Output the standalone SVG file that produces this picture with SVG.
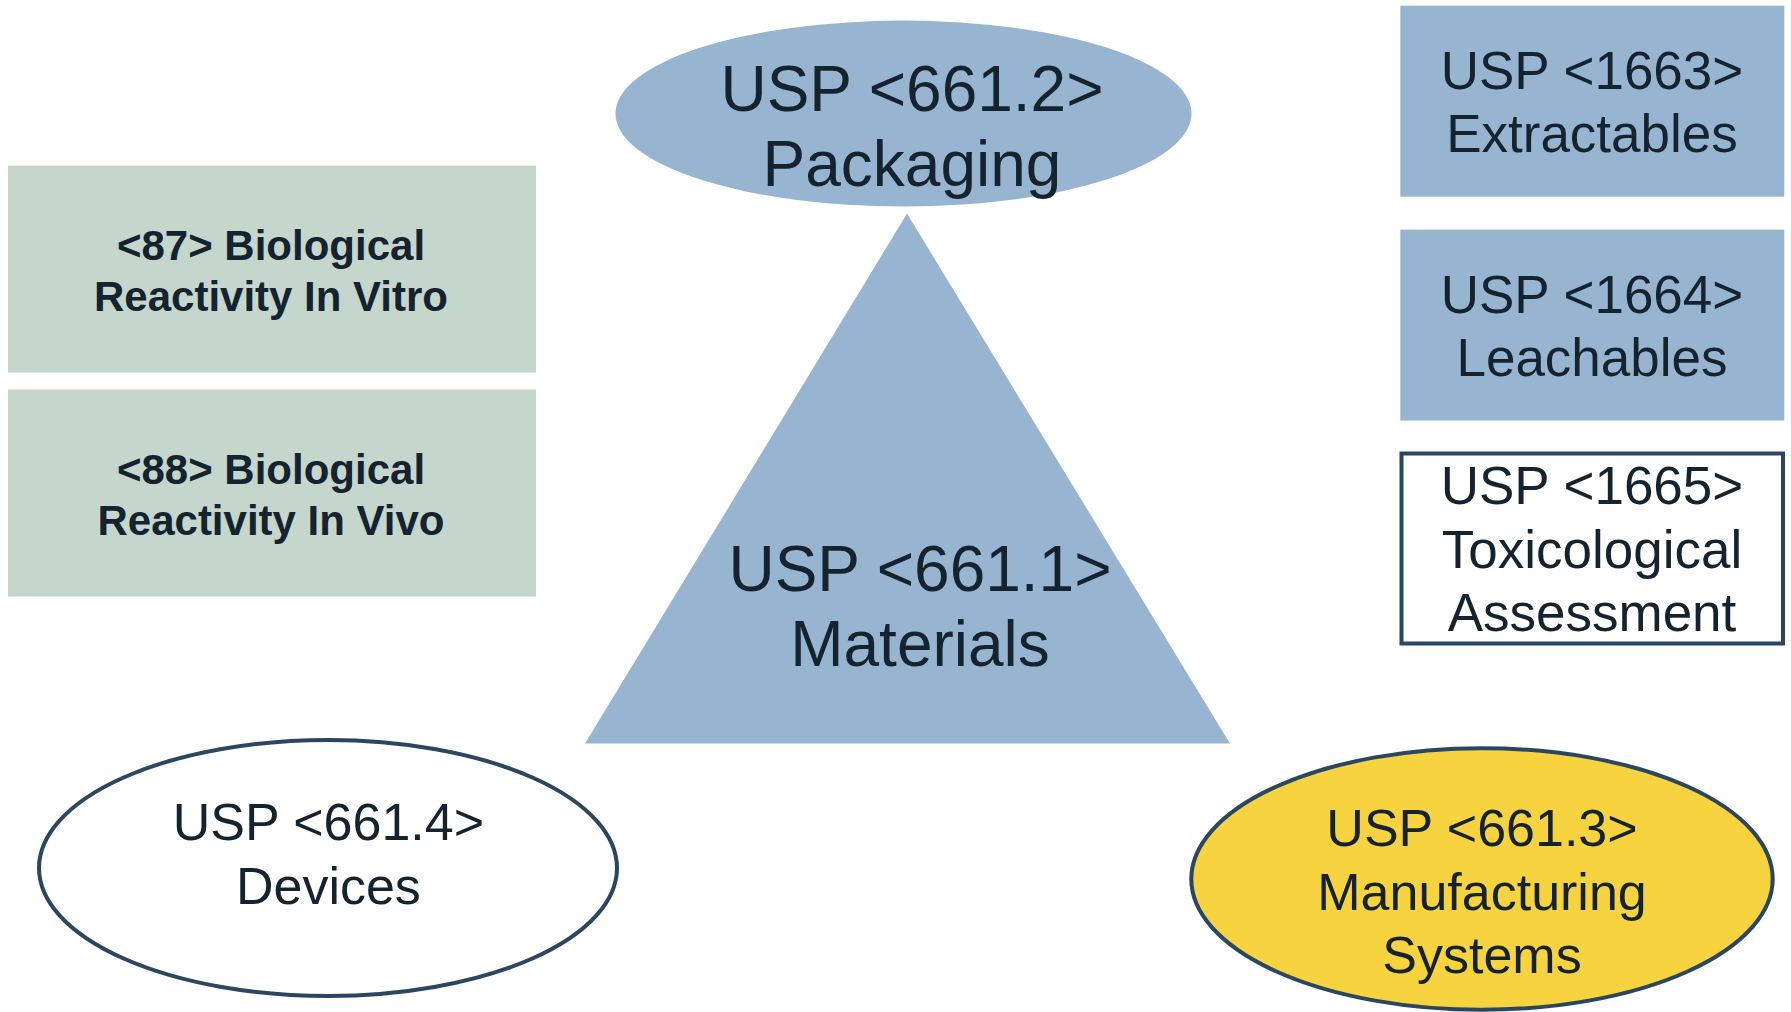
<svg xmlns="http://www.w3.org/2000/svg" width="1791" height="1012" viewBox="0 0 1791 1012">
<style>
.t{font-family:"Liberation Sans",Arial,sans-serif;fill:#15232F;text-anchor:middle}
.b{font-weight:bold}
.blue{fill:#97B5D1}
.green{fill:#C5D7CC}
.out{stroke:#2B4661;stroke-width:4}
</style>
<rect width="1791" height="1012" fill="#FFFFFF"/>
<g id="connectors"></g>
<g id="packaging">
<ellipse class="blue" cx="903.5" cy="113.6" rx="288" ry="93"/>
<text class="t" x="912" y="110.8" font-size="64">USP &lt;661.2&gt;</text>
<text class="t" x="912" y="186.2" font-size="64">Packaging</text>
</g>
<g id="materials">
<polygon class="blue" points="907,213.6 1230,743.6 585,743.6"/>
<text class="t" x="920" y="590.5" font-size="64">USP &lt;661.1&gt;</text>
<text class="t" x="920" y="666" font-size="64">Materials</text>
</g>
<g id="bio87">
<rect class="green" x="8" y="165.6" width="528" height="207"/>
<text class="t b" x="271" y="260.4" font-size="42">&lt;87&gt; Biological</text>
<text class="t b" x="271" y="310.7" font-size="42">Reactivity In Vitro</text>
</g>
<g id="bio88">
<rect class="green" x="8" y="389.5" width="528" height="207"/>
<text class="t b" x="271" y="484.3" font-size="42">&lt;88&gt; Biological</text>
<text class="t b" x="271" y="534.6" font-size="42">Reactivity In Vivo</text>
</g>
<g id="usp1663">
<rect class="blue" x="1400.3" y="5.7" width="384" height="191"/>
<text class="t" x="1592" y="89.1" font-size="53">USP &lt;1663&gt;</text>
<text class="t" x="1592" y="151.9" font-size="53">Extractables</text>
</g>
<g id="usp1664">
<rect class="blue" x="1400.3" y="229.6" width="384" height="191"/>
<text class="t" x="1592" y="313" font-size="53">USP &lt;1664&gt;</text>
<text class="t" x="1592" y="375.8" font-size="53">Leachables</text>
</g>
<g id="usp1665">
<rect x="1401.5" y="453.5" width="381.5" height="190" fill="#FFFFFF" class="out"/>
<text class="t" x="1592" y="503.7" font-size="53">USP &lt;1665&gt;</text>
<text class="t" x="1592" y="567.7" font-size="53">Toxicological</text>
<text class="t" x="1592" y="630.5" font-size="53">Assessment</text>
</g>
<g id="devices">
<ellipse cx="328" cy="868" rx="289" ry="128" fill="#FFFFFF" class="out"/>
<text class="t" x="328.4" y="839.5" font-size="52">USP &lt;661.4&gt;</text>
<text class="t" x="328.4" y="903.5" font-size="52">Devices</text>
</g>
<g id="manufacturing">
<ellipse cx="1482" cy="879" rx="290.7" ry="130.8" fill="#F7D43F" class="out"/>
<text class="t" x="1482" y="846.4" font-size="52">USP &lt;661.3&gt;</text>
<text class="t" x="1482" y="910.3" font-size="52">Manufacturing</text>
<text class="t" x="1482" y="973.1" font-size="52">Systems</text>
</g>
</svg>
